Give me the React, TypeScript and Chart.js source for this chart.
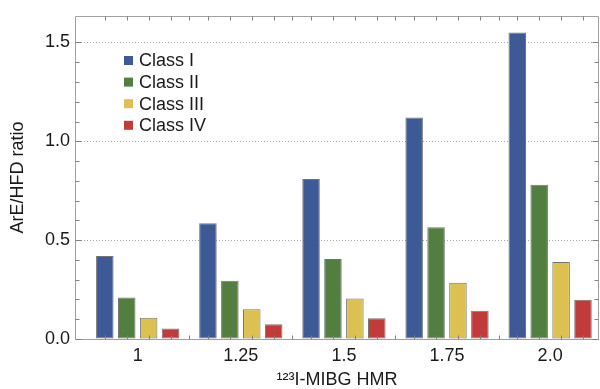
import React, { useEffect, useRef } from "react";
import { Chart, registerables } from "chart.js";

Chart.register(...registerables);

const categories = ["1", "1.25", "1.5", "1.75", "2.0"];
const seriesNames = ["Class I", "Class II", "Class III", "Class IV"];
const classI = [0.42, 0.585, 0.81, 1.12, 1.55];
const classII = [0.21, 0.295, 0.405, 0.565, 0.78];
const classIII = [0.108, 0.15, 0.205, 0.285, 0.39];
const classIV = [0.053, 0.075, 0.105, 0.143, 0.198];
const seriesColors = ["#3d5996", "#527f3f", "#dcc050", "#c23b3b"];
const yMajorTicks = [0, 0.5, 1.0, 1.5];

const FONT = "'Liberation Sans', Arial, sans-serif";
const FRAME = "#a0a0a0";
const TEXT = "#1a1a1a";

const frameTicks = {
  id: "frameTicks",
  afterDatasetsDraw(chart: any) {
    const { ctx, chartArea, scales } = chart;
    const { left, right, top, bottom } = chartArea;
    const x = scales.x;
    const y = scales.y;
    ctx.save();
    ctx.strokeStyle = FRAME;
    ctx.lineWidth = 1;
    const L = Math.round(left) + 0.5;
    const R = Math.round(right) - 0.5;
    const T = Math.round(top) + 0.5;
    const B = Math.round(bottom) + 0.5;
    ctx.beginPath();
    ctx.rect(L, T, R - L, B - T);
    ctx.stroke();
    ctx.strokeStyle = "#808080";
    ctx.beginPath();
    y.ticks.forEach((t: any) => {
      const v = t.value;
      if (Math.abs(v * 10 - Math.round(v * 10)) > 1e-6) return;
      const py = Math.round(y.getPixelForValue(v)) + 0.5;
      const len = yMajorTicks.some((m) => Math.abs(m - v) < 1e-6) ? 6 : 4;
      ctx.moveTo(L, py);
      ctx.lineTo(L + len, py);
      ctx.moveTo(R, py);
      ctx.lineTo(R - len, py);
    });
    const xs: number[] = [];
    chart.data.datasets.forEach((_: any, i: number) => {
      const meta = chart.getDatasetMeta(i);
      meta.data.forEach((el: any) => xs.push(el.x));
    });
    for (let i = 1; i < categories.length; i++) {
      xs.push(x.getPixelForValue(i + 0.5));
    }
    xs.forEach((px) => {
      const p = Math.round(px) + 0.5;
      ctx.moveTo(p, B);
      ctx.lineTo(p, B - 4);
      ctx.moveTo(p, T);
      ctx.lineTo(p, T + 4);
    });
    ctx.stroke();
    ctx.restore();
  },
};

const innerLegend = {
  id: "innerLegend",
  afterDraw(chart: any) {
    const { ctx } = chart;
    const opts = chart.options.plugins.innerLegend;
    ctx.save();
    ctx.font = `18px ${FONT}`;
    ctx.textBaseline = "middle";
    ctx.textAlign = "left";
    chart.data.datasets.forEach((ds: any, i: number) => {
      const cy = opts.y + i * opts.row;
      ctx.fillStyle = ds.backgroundColor;
      ctx.fillRect(opts.x, cy - 4.5, 9, 9);
      ctx.fillStyle = TEXT;
      ctx.fillText(ds.label, opts.x + 15, cy + 1);
    });
    ctx.restore();
  },
};

export default function App() {
  const ref = useRef<HTMLCanvasElement>(null);
  useEffect(() => {
    if (!ref.current) return;
    const series = [classI, classII, classIII, classIV];
    const chart = new Chart(ref.current, {
      type: "bar",
      data: {
        datasets: series.map((vals, si) => ({
          label: seriesNames[si],
          data: vals.map((v, i) => ({ x: i + 1, y: v })),
          backgroundColor: seriesColors[si],
          borderColor: "rgba(70,70,70,0.75)",
          borderWidth: 1,
          borderSkipped: false,
          categoryPercentage: 0.85,
          barPercentage: 0.8,
        })),
      },
      options: {
        responsive: false,
        animation: false,
        devicePixelRatio: 1,
        layout: { padding: { top: 12, right: 1, left: 0, bottom: 0 } },
        plugins: {
          legend: { display: false },
          tooltip: { enabled: false },
          innerLegend: { x: 124, y: 60.5, row: 21.6 },
        } as any,
        scales: {
          x: {
            type: "linear",
            offset: false,
            min: 0.392,
            max: 5.474,
            afterFit(scale: any) {
              scale.height = 50;
            },
            afterBuildTicks(scale: any) {
              scale.ticks = categories.map((_, i) => ({ value: i + 1 }));
            },
            grid: { display: false, drawTicks: false },
            border: { display: false },
            ticks: {
              autoSkip: false,
              maxRotation: 0,
              padding: 6,
              color: TEXT,
              font: { family: FONT, size: 18 },
              callback: (v: any) => {
                const idx = Math.round(Number(v)) - 1;
                return categories[idx] ?? "";
              },
            },
            title: {
              display: true,
              text: "¹²³I-MIBG HMR",
              color: TEXT,
              font: { family: FONT, size: 18, lineHeight: 1 },
              padding: { top: 0, bottom: 0 },
            },
          },
          y: {
            min: 0,
            max: 1.635,
            afterFit(scale: any) {
              scale.width = 75;
            },
            grid: {
              drawTicks: false,
              lineWidth: 1,
              color: (c: any) => {
                const v = c.tick ? c.tick.value : -1;
                return v > 0 && yMajorTicks.some((m) => Math.abs(m - v) < 1e-6)
                  ? "#a8a8a8"
                  : "rgba(0,0,0,0)";
              },
            },
            border: { display: false, dash: [1, 2] },
            ticks: {
              stepSize: 0.1,
              autoSkip: false,
              padding: 5,
              color: TEXT,
              font: { family: FONT, size: 18 },
              callback: (v: any) => {
                const n = Number(v);
                return yMajorTicks.some((m) => Math.abs(m - n) < 1e-6) ? n.toFixed(1) : "";
              },
            },
            title: {
              display: true,
              text: "ArE/HFD ratio",
              color: TEXT,
              font: { family: FONT, size: 18, lineHeight: 1 },
              padding: { top: 9.5, bottom: 0 },
            },
          },
        },
      },
      plugins: [frameTicks, innerLegend],
    });
    return () => chart.destroy();
  }, []);
  return (
    <div style={{ position: "absolute", left: 0, top: 0, width: 600, height: 389 }}>
      <canvas ref={ref} width={600} height={389} style={{ display: "block" }} />
    </div>
  );
}
